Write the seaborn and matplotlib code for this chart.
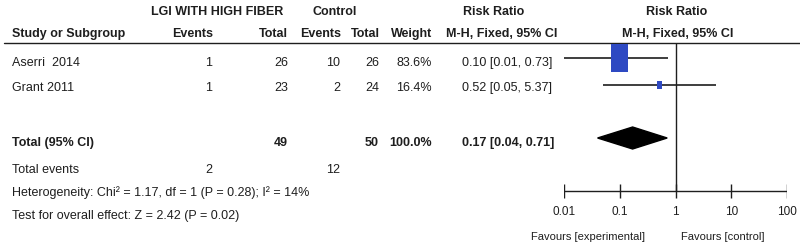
import numpy as np
import pandas as pd
import matplotlib
matplotlib.use("Agg")
import matplotlib.pyplot as plt
import seaborn as sns

# data
studies = ["Aserri  2014", "Grant 2011"]
exp_events = [1, 1]
exp_total = [26, 23]
ctl_events = [10, 2]
ctl_total = [26, 24]
weights = [83.6, 16.4]
rr = [0.10, 0.52]
rr_lo = [0.01, 0.05]
rr_hi = [0.73, 5.37]

total_exp = 49
total_ctl = 50
total_rr = 0.17
total_lo = 0.04
total_hi = 0.71
total_exp_events = 2
total_ctl_events = 12
heterogeneity = "Heterogeneity: Chi² = 1.17, df = 1 (P = 0.28); I² = 14%"
overall = "Test for overall effect: Z = 2.42 (P = 0.02)"
ticks = [0.01, 0.1, 1, 10, 100]
tick_labels = ["0.01", "0.1", "1", "10", "100"]

sns.set_style("white")
plt.rcParams['font.family'] = ['Liberation Sans', 'DejaVu Sans']

fig = plt.figure(figsize=(8, 2.48), dpi=100)
# text layer in pixel coordinates
tx = fig.add_axes([0, 0, 1, 1])
tx.set_xlim(0, 800)
tx.set_ylim(248, 0)
tx.axis("off")

fs = 9
ink = "#1e1e1e"
row_y = [63, 88]
tot_y = 143

def t(x, y, s, ha="left", bold=False, size=fs):
    tx.text(x, y, s, ha=ha, va="center", fontsize=size,
            fontweight="bold" if bold else "normal", color=ink)

# headers
t(217, 12, "LGI WITH HIGH FIBER", "center", True)
t(335, 12, "Control", "center", True)
t(494, 12, "Risk Ratio", "center", True)
t(677, 12, "Risk Ratio", "center", True)
t(12, 34, "Study or Subgroup", bold=True)
t(213, 34, "Events", "right", True)
t(288, 34, "Total", "right", True)
t(341, 34, "Events", "right", True)
t(380, 34, "Total", "right", True)
t(432, 34, "Weight", "right", True)
t(502, 34, "M-H, Fixed, 95% CI", "center", True)
t(678, 34, "M-H, Fixed, 95% CI", "center", True)
tx.plot([4, 800], [43, 43], color=ink, lw=1)

for i, y in enumerate(row_y):
    t(12, y, studies[i])
    t(212, y, str(exp_events[i]), "right")
    t(288, y, str(exp_total[i]), "right")
    t(340, y, str(ctl_events[i]), "right")
    t(379, y, str(ctl_total[i]), "right")
    t(432, y, f"{weights[i]:.1f}%", "right")
    t(462, y, f"{rr[i]:.2f} [{rr_lo[i]:.2f}, {rr_hi[i]:.2f}]")

t(12, tot_y, "Total (95% CI)", bold=True)
t(288, tot_y, str(total_exp), "right", True)
t(379, tot_y, str(total_ctl), "right", True)
t(432, tot_y, f"{sum(weights):.1f}%", "right", True)
t(462, tot_y, f"{total_rr:.2f} [{total_lo:.2f}, {total_hi:.2f}]", bold=True)
t(12, 170, "Total events")
t(212, 170, str(total_exp_events), "right")
t(340, 170, str(total_ctl_events), "right")
t(12, 193, heterogeneity)
t(12, 216, overall)
t(645, 237, "Favours [experimental]", "right", size=8)
t(681, 237, "Favours [control]", "left", size=8)

# forest panel on log scale
ax = fig.add_axes([564 / 800, 0, (787 - 564) / 800, 1])
ax.set_xscale("log")
ax.set_xlim(ticks[0], ticks[-1])
ax.set_ylim(248, 0)
ax.axis("off")

line_y = [58, 85]
ax.hlines(line_y, rr_lo, rr_hi, color=ink, lw=1.2)
df = pd.DataFrame({"rr": rr, "y": line_y, "w": weights})
box = [(-0.29, -0.5), (0.29, -0.5), (0.29, 0.5), (-0.29, 0.5)]
sns.scatterplot(data=df, x="rr", y="y", size="w", sizes=(40, 430), marker=box,
                color="#2E49C2", edgecolor="none", legend=False, ax=ax, zorder=3)

ax.fill([total_lo, total_rr, total_hi, total_rr],
        [tot_y - 5, tot_y - 16, tot_y - 5, tot_y + 6], color="black", zorder=3)

ax.vlines(1, 43, 191, color=ink, lw=1)
ax.hlines(191, ticks[0], ticks[-1], color=ink, lw=1)
ax.vlines(ticks, 184, 198, color=ink, lw=1)
for tk, lb in zip(ticks, tick_labels):
    ax.text(tk, 212, lb, ha="center", va="center", fontsize=8.5, color=ink)

fig.savefig("out.png", dpi=100)
